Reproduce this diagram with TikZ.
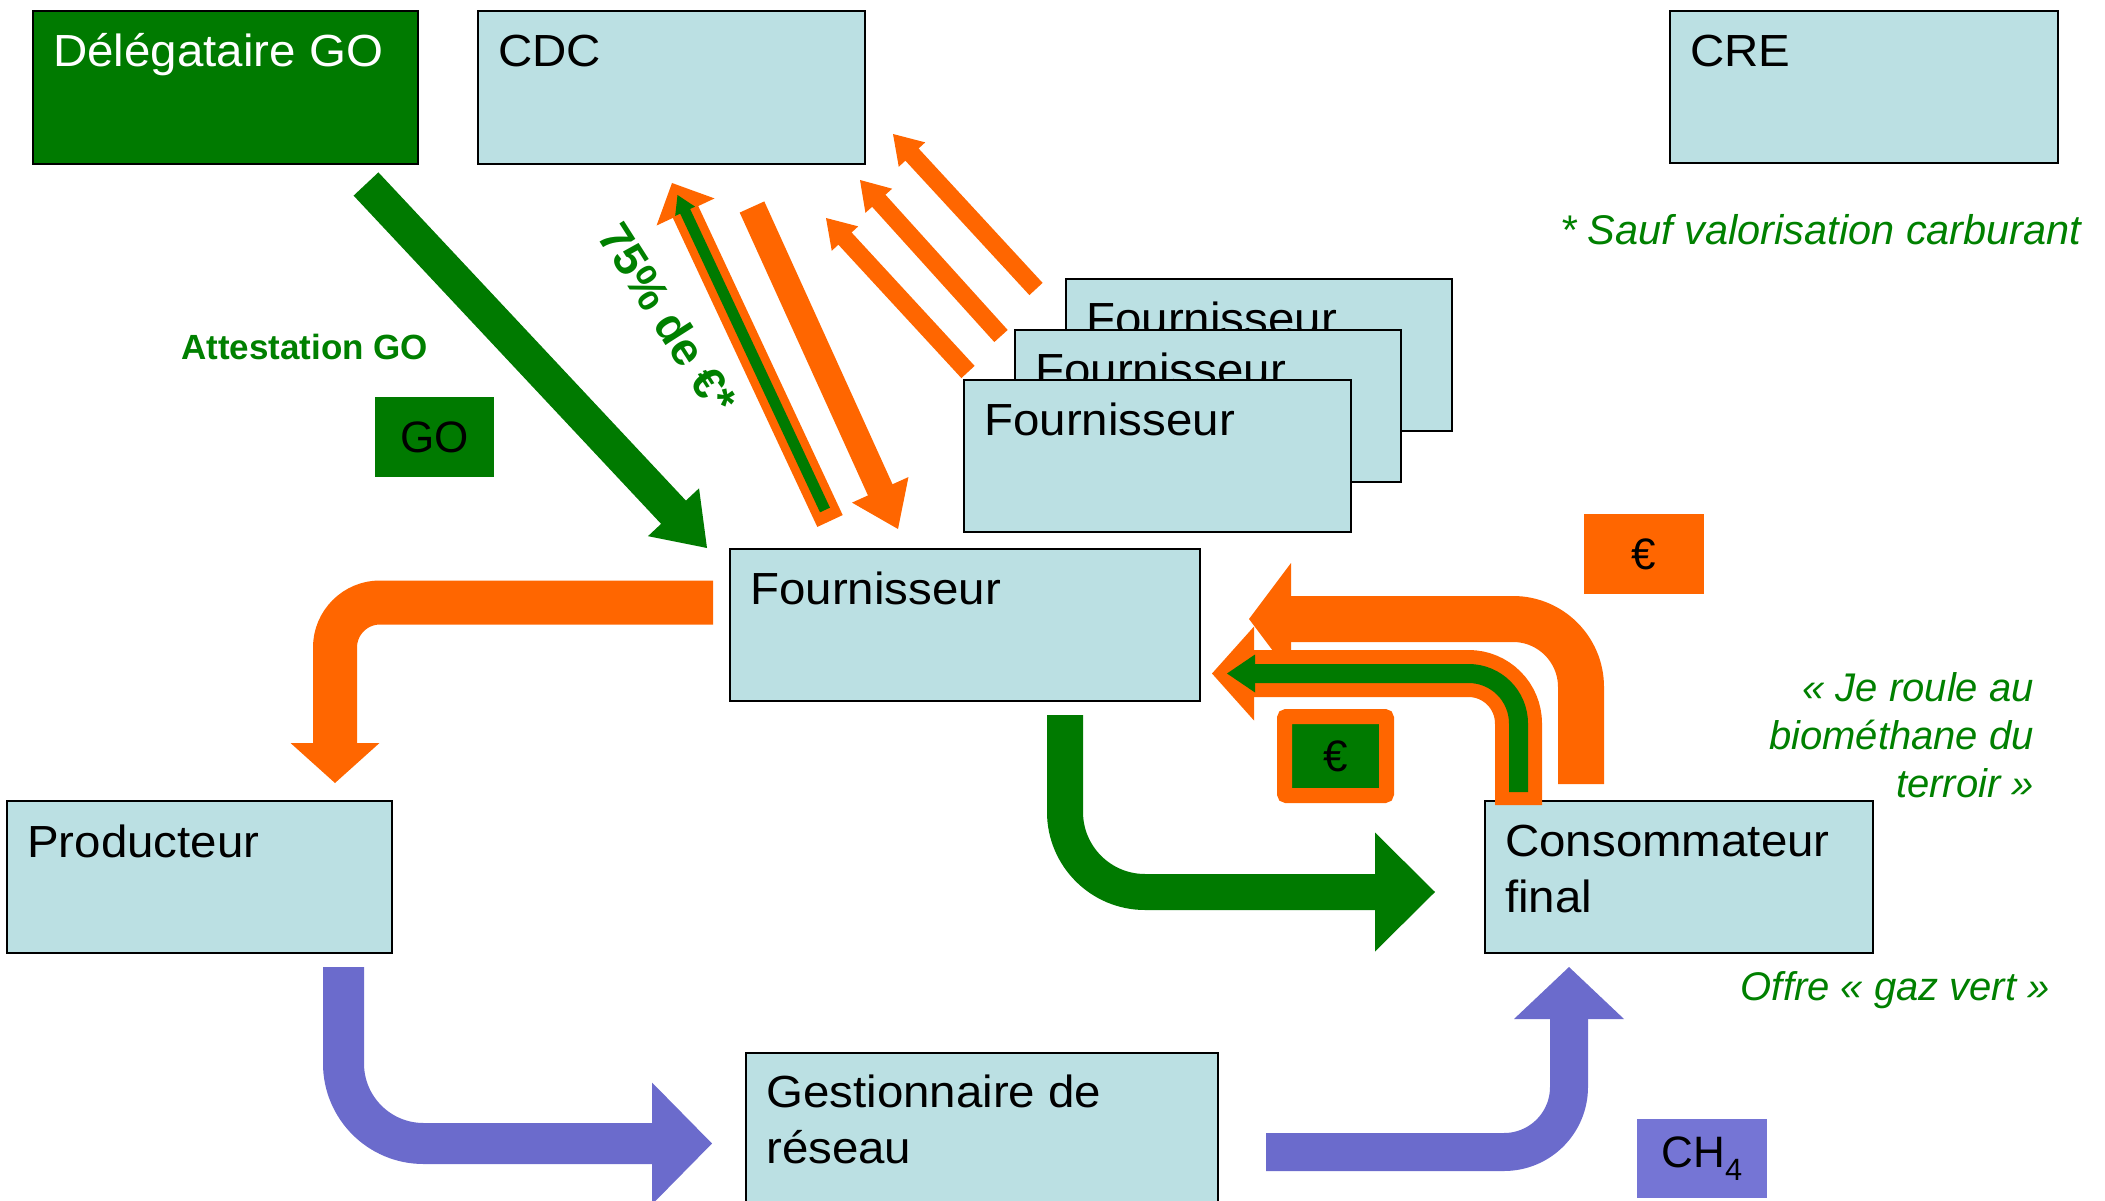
\documentclass[tikz,border=0pt]{standalone}
\usepackage{fontspec}
\setmainfont{Liberation Sans}
\newfontfamily\boxfont{Liberation Sans}[FakeStretch=1.055]
\usetikzlibrary{calc}
\definecolor{gogreen}{HTML}{007A00}
\definecolor{txtgreen}{HTML}{008000}
\definecolor{orng}{HTML}{FF6600}
\definecolor{lblue}{HTML}{BBE0E3}
\definecolor{purp}{HTML}{6B6BCC}
\definecolor{purpbox}{HTML}{7575D5}
\tikzset{
  box/.style={draw=black, line width=1.6pt, fill=lblue, anchor=north west, inner sep=0pt},
  btxt/.style={anchor=base west, inner sep=0pt, font=\boxfont\fontsize{45}{54}\selectfont},
  gtxt/.style={inner sep=0pt, text=txtgreen, font=\fontsize{40}{48}\selectfont\itshape},
  tag/.style={anchor=north west, inner sep=0pt, font=\fontsize{44}{53}\selectfont},
}
\newcommand\blkhead[5]{\fill[#1] (#2) -- ($(#2)!#4!(#3)!#5!90:(#2)$) -- ($(#2)!#4!(#3)!#5!-90:(#2)$) -- cycle;}
\begin{document}
\begin{tikzpicture}[x=1pt,y=-1pt]
\useasboundingbox (0,0) rectangle (2105,1201);
\clip (0,0) rectangle (2105,1201);

% ---------- boxes ----------
\node[box, fill=gogreen, minimum width=385pt, minimum height=153pt] (dele) at (32,10) {};
\node[btxt, text=white] (deletxt) at (53,67) {Délégataire GO};
\node[box, minimum width=387pt, minimum height=153pt] (cdc) at (477,10) {};
\node[btxt] (cdctxt) at (498,67) {CDC};
\node[box, minimum width=388pt, minimum height=152pt] (cre) at (1669,10) {};
\node[btxt] (cretxt) at (1690,67) {CRE};

\node[box, minimum width=386pt, minimum height=152pt] (f3) at (1065,278) {};
\node[btxt] (f3txt) at (1086,334.5) {Fournisseur};
\node[box, minimum width=386pt, minimum height=152pt] (f2) at (1014,329) {};
\node[btxt] (f2txt) at (1035,385.5) {Fournisseur};
\node[box, minimum width=387pt, minimum height=152pt] (f1) at (963,379) {};
\node[btxt] (f1txt) at (984,435.5) {Fournisseur};

\node[box, minimum width=470pt, minimum height=152pt] (four) at (729,548) {};
\node[btxt] (fourtxt) at (750,604.5) {Fournisseur};
\node[box, minimum width=385pt, minimum height=152pt] (prod) at (6,800) {};
\node[btxt] (prodtxt) at (27,857) {Producteur};
\node[box, minimum width=388pt, minimum height=152pt] (cons) at (1484,800) {};
\node[btxt] (constxta) at (1505,856) {Consommateur};
\node[btxt] (constxtb) at (1505,912) {final};
\node[box, minimum width=472pt, minimum height=175pt] (gest) at (745,1052) {};
\node[btxt] (gesttxta) at (766,1107) {Gestionnaire de};
\node[btxt] (gesttxtb) at (766,1163) {réseau};

% ---------- straight arrows ----------
% Délégataire -> Fournisseur (green)
\coordinate (a1t) at (366,184); \coordinate (a1h) at (707,548);
\draw[gogreen, line width=34pt] (a1t) -- ($(a1h)!47pt!(a1t)$);
\blkhead{gogreen}{a1h}{a1t}{49pt}{35pt}

% Fournisseur -> CDC (orange with green stripe)
\coordinate (a2t) at (830,521); \coordinate (a2h) at (672,183);
\draw[orng, line width=28pt] (a2t) -- ($(a2h)!30pt!(a2t)$);
\blkhead{orng}{a2h}{a2t}{32pt}{32pt}
\coordinate (g2t) at (825,510); \coordinate (g2h) at (677.5,195);
\draw[gogreen, line width=11pt] (g2t) -- ($(g2h)!16pt!(g2t)$);
\blkhead{gogreen}{g2h}{g2t}{18pt}{11pt}

% CDC -> Fournisseur (orange)
\coordinate (a3t) at (752,207); \coordinate (a3h) at (898,529);
\draw[orng, line width=27pt] (a3t) -- ($(a3h)!41pt!(a3t)$);
\blkhead{orng}{a3h}{a3t}{43pt}{31pt}

% other Fournisseurs -> CDC (thin orange)
\coordinate (a4t) at (1036,289); \coordinate (a4h) at (893,134);
\draw[orng, line width=18pt] (a4t) -- ($(a4h)!26pt!(a4t)$);
\blkhead{orng}{a4h}{a4t}{28pt}{18pt}
\coordinate (a5t) at (1001,336); \coordinate (a5h) at (860,180);
\draw[orng, line width=18pt] (a5t) -- ($(a5h)!26pt!(a5t)$);
\blkhead{orng}{a5h}{a5t}{28pt}{18pt}
\coordinate (a6t) at (968,372); \coordinate (a6h) at (826,218);
\draw[orng, line width=18pt] (a6t) -- ($(a6h)!26pt!(a6t)$);
\blkhead{orng}{a6h}{a6t}{28pt}{18pt}

% ---------- bent arrows ----------
% Fournisseur -> Producteur (orange)
\coordinate (b1t) at (713,602.5); \coordinate (b1c) at (335,602.5); \coordinate (b1h) at (335,783);
\draw[orng, line width=44pt, rounded corners=45pt] (b1t) -- (b1c) -- ($(b1h)+(0,-38)$);
\blkhead{orng}{b1h}{b1c}{40pt}{44.5pt}

% Producteur -> Gestionnaire (purple)
\coordinate (b2t) at (343.5,967); \coordinate (b2c) at (343.5,1143.5); \coordinate (b2h) at (712,1143.5);
\draw[purp, line width=41pt, rounded corners=80pt] (b2t) -- (b2c) -- ($(b2h)+(-58,0)$);
\blkhead{purp}{b2h}{b2c}{60pt}{61pt}

% Gestionnaire -> Consommateur (purple)
\coordinate (b3t) at (1266,1152); \coordinate (b3c) at (1569,1152); \coordinate (b3h) at (1569,967);
\draw[purp, line width=38pt, rounded corners=65pt] (b3t) -- (b3c) -- ($(b3h)+(0,50)$);
\blkhead{purp}{b3h}{b3c}{52pt}{55pt}

% Fournisseur -> Consommateur (green)
\coordinate (b4t) at (1065,715); \coordinate (b4c) at (1065,892); \coordinate (b4h) at (1435,892);
\draw[gogreen, line width=36pt, rounded corners=80pt] (b4t) -- (b4c) -- ($(b4h)+(-58,0)$);
\blkhead{gogreen}{b4h}{b4c}{60pt}{59.5pt}

% Consommateur -> Fournisseur (big orange)
\coordinate (b5t) at (1581,784); \coordinate (b5c) at (1581,619); \coordinate (b5h) at (1249,619);
\draw[orng, line width=46pt, rounded corners=68pt] (b5t) -- (b5c) -- ($(b5h)+(40,0)$);
\blkhead{orng}{b5h}{b5c}{42pt}{56pt}

% Consommateur -> Fournisseur (green, orange outline)
\coordinate (b6t) at (1518.5,805); \coordinate (b6c) at (1518.5,673.5); \coordinate (b6h) at (1212,673.5);
\draw[orng, line width=47pt, rounded corners=50pt] (b6t) -- (b6c) -- ($(b6h)+(40,0)$);
\blkhead{orng}{b6h}{b6c}{42pt}{47pt}
\coordinate (g6t) at (1518.5,792); \coordinate (g6h) at (1227,673.5);
\draw[gogreen, line width=19pt, rounded corners=50pt] (g6t) -- (b6c) -- ($(g6h)+(26,0)$);
\blkhead{gogreen}{g6h}{b6c}{28pt}{19pt}

% ---------- tags and labels ----------
\node[tag, fill=gogreen, minimum width=119pt, minimum height=80pt] (go) at (375,397) {GO};
\node[anchor=base west, inner sep=0pt, text=txtgreen, font=\fontsize{35}{42}\selectfont\bfseries] (att) at (181,359) {Attestation GO};
\node[rotate=-57.5, inner sep=0pt, text=txtgreen, font=\fontsize{46}{55}\selectfont\bfseries] (pct) at (668,318) {75\% de €*};
\node[tag, fill=orng, minimum width=120pt, minimum height=80pt] (eura) at (1584,514) {€};
\node[tag, fill=gogreen, draw=orng, line width=15pt, rounded corners=2pt, minimum width=102pt, minimum height=79pt] (eurb) at (1277,709) {€};
\node[tag, fill=purpbox, minimum width=130pt, minimum height=79pt] (ch) at (1637,1119) {CH\textsubscript{4}};

\node[gtxt, anchor=base west, font=\fontsize{41.5}{48}\selectfont\itshape] (sauf) at (1560,245) {* Sauf valorisation carburant};
\node[gtxt, anchor=base east] (jea) at (2034,701) {« Je roule au};
\node[gtxt, anchor=base east] (jeb) at (2034,749) {biométhane du};
\node[gtxt, anchor=base east] (jec) at (2034,797) {terroir »};
\node[gtxt, anchor=base east] (offre) at (2050,1000) {Offre « gaz vert »};
\end{tikzpicture}
\end{document}
